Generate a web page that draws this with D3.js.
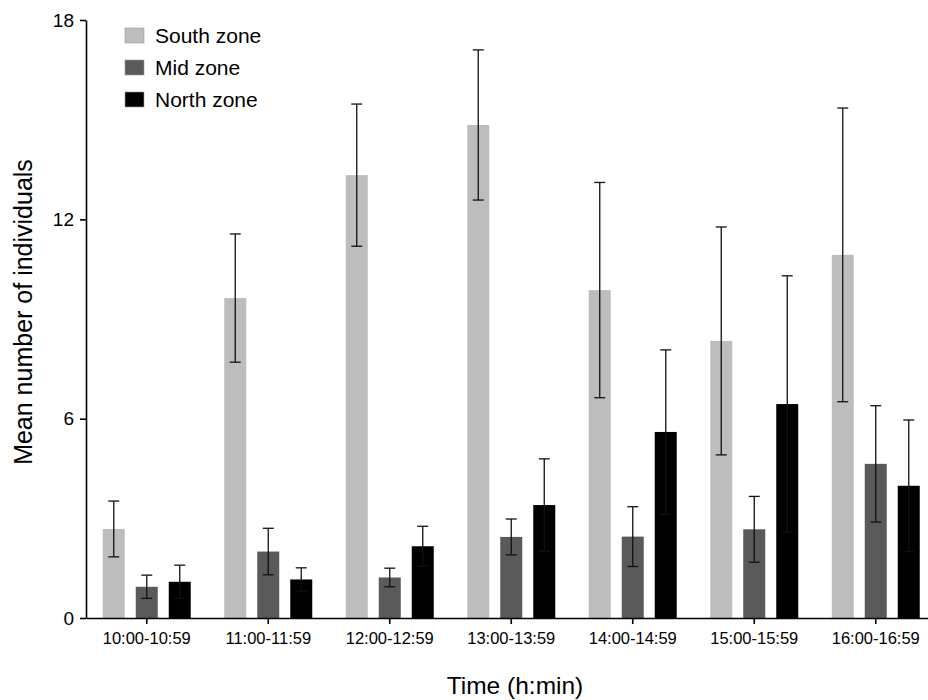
<!DOCTYPE html>
<html>
<head>
<meta charset="utf-8">
<script src="https://cdn.jsdelivr.net/npm/d3@7"></script>
<style>
  body { margin: 0; background: #fff; }
  svg { font-family: "Liberation Sans", Arial, sans-serif; }
</style>
</head>
<body>
<div id="chart"></div>
<script>
var svgWidth = 928;
var svgHeight = 700;

// data
var times = ["10:00-10:59", "11:00-11:59", "12:00-12:59", "13:00-13:59", "14:00-14:59", "15:00-15:59", "16:00-16:59"];
var zones = ["South zone", "Mid zone", "North zone"];
var southMean = [2.68, 9.63, 13.33, 14.84, 9.87, 8.34, 10.93];
var southErr  = [0.84, 1.93, 2.14, 2.26, 3.24, 3.43, 4.42];
var midMean   = [0.94, 2.0, 1.22, 2.44, 2.45, 2.67, 4.64];
var midErr    = [0.35, 0.7, 0.28, 0.54, 0.9, 0.99, 1.75];
var northMean = [1.09, 1.16, 2.16, 3.4, 5.6, 6.44, 3.98];
var northErr  = [0.5, 0.35, 0.6, 1.39, 2.47, 3.86, 1.98];
var yTicks = [0, 6, 12, 18];
var colors = ["#bdbdbd", "#5a5a5a", "#000000"];

var means = [southMean, midMean, northMean];
var errs = [southErr, midErr, northErr];

var data = [];
times.forEach(function(t, i) {
  zones.forEach(function(z, j) {
    data.push({ time: t, zone: z, mean: means[j][i], err: errs[j][i] });
  });
});

var svg = d3.select("#chart")
  .append("svg")
  .attr("width", svgWidth)
  .attr("height", svgHeight);

var x0 = d3.scaleBand()
  .domain(times)
  .range([86, 936.5]);

var x1 = d3.scaleBand()
  .domain(zones)
  .range([0, 88])
  .paddingInner(1 / 3);

var y = d3.scaleLinear()
  .domain([0, 18])
  .range([618, 20]);

var color = d3.scaleOrdinal().domain(zones).range(colors);

function barX(d) {
  return x0(d.time) + x0.bandwidth() / 2 - 44 + x1(d.zone);
}

// bars
svg.append("g")
  .selectAll("rect")
  .data(data)
  .enter()
  .append("rect")
  .attr("x", barX)
  .attr("y", d => y(d.mean))
  .attr("width", x1.bandwidth())
  .attr("height", d => y(0) - y(d.mean))
  .attr("fill", d => color(d.zone));

// error bars
var eb = svg.append("g")
  .attr("stroke", "#111")
  .attr("stroke-width", 1.3)
  .selectAll("g")
  .data(data)
  .enter()
  .append("g");

eb.append("line")
  .attr("x1", d => barX(d) + x1.bandwidth() / 2)
  .attr("x2", d => barX(d) + x1.bandwidth() / 2)
  .attr("y1", d => y(d.mean + d.err))
  .attr("y2", d => y(d.mean - d.err));

eb.append("line")
  .attr("x1", d => barX(d) + x1.bandwidth() / 2 - 5.5)
  .attr("x2", d => barX(d) + x1.bandwidth() / 2 + 5.5)
  .attr("y1", d => y(d.mean + d.err))
  .attr("y2", d => y(d.mean + d.err));

eb.append("line")
  .attr("x1", d => barX(d) + x1.bandwidth() / 2 - 5.5)
  .attr("x2", d => barX(d) + x1.bandwidth() / 2 + 5.5)
  .attr("y1", d => y(d.mean - d.err))
  .attr("y2", d => y(d.mean - d.err));

// axes
var xAxis = svg.append("g")
  .attr("transform", "translate(0," + y(0) + ")")
  .call(d3.axisBottom(x0).tickSizeInner(6).tickSizeOuter(0).tickPadding(8));
xAxis.selectAll("text").style("font-size", "16.5px").attr("fill", "#000");
xAxis.selectAll("line, path").attr("stroke", "#000").attr("stroke-width", 1.6);

var yAxis = svg.append("g")
  .attr("transform", "translate(86,0)")
  .call(d3.axisLeft(y).tickValues(yTicks).tickSizeInner(6).tickSizeOuter(0).tickPadding(6));
yAxis.selectAll("text").style("font-size", "19px").attr("fill", "#000");
yAxis.selectAll("line, path").attr("stroke", "#000").attr("stroke-width", 1.6);

// axis titles
svg.append("text")
  .attr("x", 515)
  .attr("y", 694)
  .attr("text-anchor", "middle")
  .style("font-size", "24.5px")
  .text("Time (h:min)");

svg.append("text")
  .attr("transform", "translate(32,312) rotate(-90)")
  .attr("text-anchor", "middle")
  .style("font-size", "25px")
  .text("Mean number of individuals");

// legend
var legend = svg.append("g")
  .selectAll("g")
  .data(zones)
  .enter()
  .append("g")
  .attr("transform", (d, i) => "translate(125," + (28 + i * 32) + ")");

legend.append("rect")
  .attr("width", 19)
  .attr("height", 15)
  .attr("fill", d => color(d))
  .attr("stroke", "#999")
  .attr("stroke-width", 0.6);

legend.append("text")
  .attr("x", 30)
  .attr("y", 15)
  .style("font-size", "21px")
  .text(d => d);
</script>
</body>
</html>
